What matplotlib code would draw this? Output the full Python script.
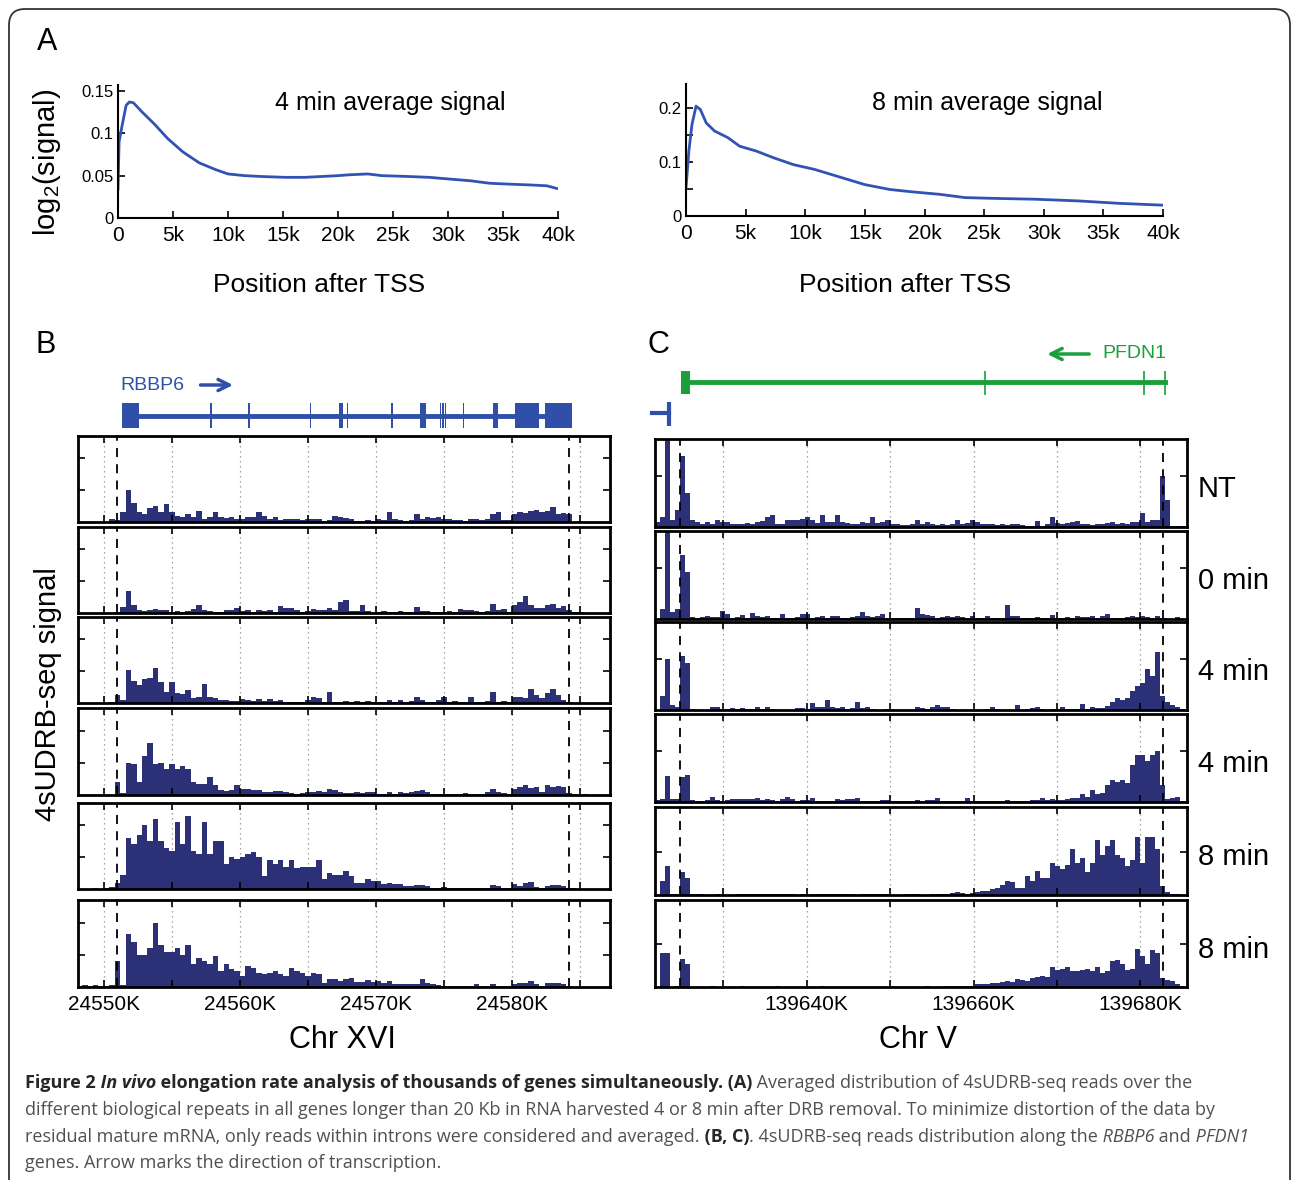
import numpy as np
import matplotlib
matplotlib.use("Agg")
import matplotlib.pyplot as plt
from matplotlib.patches import FancyBboxPatch
from matplotlib.transforms import IdentityTransform

plt.rcParams['font.family'] = ['Liberation Sans', 'DejaVu Sans']
plt.rcParams['mathtext.fontset'] = 'custom'
plt.rcParams['mathtext.rm'] = 'Liberation Sans'

W, H = 1293, 1180

CURVE_BLUE = '#3253b4'
GENE_BLUE = '#2f4fa8'
GENE_GREEN = '#1a9f3a'
BAR = '#2c3076'

# ---- panel A: average log2 signal vs position after TSS (kb)
A4_X = [0, 0.1, 0.37, 0.74, 1.04, 1.4, 2.2, 3.3, 4.5, 5.9, 7.4, 8.9, 10, 11.5, 13, 15.2,
        17, 18.5, 20, 21, 22.7, 24, 26.4, 28.3, 30.1, 32, 33.8, 35.5, 37.5, 39, 40]
A4_Y = [0.034, 0.09, 0.109, 0.133, 0.137, 0.136, 0.125, 0.111, 0.094, 0.078, 0.065, 0.057,
        0.052, 0.050, 0.049, 0.048, 0.048, 0.049, 0.050, 0.051, 0.052, 0.050, 0.049, 0.048,
        0.046, 0.044, 0.041, 0.040, 0.039, 0.038, 0.0345]
A8_X = [0, 0.24, 0.5, 0.84, 1.2, 1.7, 2.4, 3.5, 4.5, 5.9, 7.3, 9, 10.8, 12.6, 15, 17.1,
        18.8, 21.3, 23.4, 25.8, 29.3, 32.8, 36.3, 40]
A8_Y = [0.052, 0.12, 0.169, 0.203, 0.197, 0.172, 0.157, 0.145, 0.129, 0.12, 0.108, 0.095,
        0.086, 0.074, 0.058, 0.049, 0.045, 0.040, 0.034, 0.0326, 0.031, 0.028, 0.0234, 0.020]
A_XTICKS = [0, 5, 10, 15, 20, 25, 30, 35, 40]
A_XLABELS = ['0', '5k', '10k', '15k', '20k', '25k', '30k', '35k', '40k']

# ---- panel B: RBBP6 on Chr XVI (positions in kb)
B_START = 24548.0
B_BIN = 0.4
B_XLIM = (24548.1, 24587.2)
B_GRID = [24550, 24555, 24560, 24565, 24570, 24575, 24580, 24585]
B_GRID_LABELS = ['24550K', '', '24560K', '', '24570K', '', '24580K', '']
B_DASH = [24551.0, 24584.2]
B_EXON_START = [24551.3, 24557.83, 24560.63, 24565.18, 24567.3, 24567.88, 24571.12, 24573.2,
                24574.68, 24574.88, 24575.08, 24576.38, 24578.6, 24580.25, 24582.4]
B_EXON_END = [24552.6, 24557.95, 24560.71, 24565.26, 24567.55, 24567.98, 24571.24, 24573.7,
              24574.78, 24574.98, 24575.18, 24576.46, 24579.0, 24582.0, 24584.4]

B_NT = [0, 0, 0, 0, 0, 0, 1, 0.5, 3, 10,
        6, 3, 2.5, 4.5, 5, 3, 5.5, 3, 2, 1.5,
        2.5, 1.5, 3.5, 1, 1.5, 3, 1.5, 1.2, 1.5, 1,
        1, 1.5, 1.5, 3.2, 2, 1, 1.5, 0.7, 1, 0.8,
        1, 0.5, 1, 0.8, 1, 0.3, 0.5, 1.8, 1.5, 1.2,
        0.8, 0.3, 0.3, 0.5, 0.3, 0.8, 0.5, 3.2, 1, 0.5,
        0.3, 0.5, 2.5, 0.8, 1.5, 1.2, 1.5, 1, 0.8, 0.5,
        0.7, 0.3, 0.8, 0.8, 0.5, 1, 2.5, 3, 0.5, 0.5,
        2.5, 3, 2.8, 3.5, 3.8, 3, 3.5, 4.8, 2.5, 2.8,
        2.5, 0, 0.2, 0, 0, 0, 0, 0]
B_0MIN = [0, 0, 0, 0, 0, 0, 0, 0.3, 2, 7,
          2.5, 1, 0.5, 0.8, 1.2, 1, 0.8, 0.3, 0.5, 0.3,
          0.5, 1.2, 2.5, 1, 0.5, 0.3, 0.3, 0.8, 0.8, 1.5,
          0.5, 1, 0.3, 0.8, 0.5, 0.8, 0.3, 2.2, 1.5, 1.5,
          0.8, 0.3, 0.5, 1.2, 1, 1, 1.5, 1, 3.5, 4,
          0.5, 0.5, 2.5, 0.5, 0, 0.3, 0.5, 0.3, 0.3, 0.5,
          0.2, 0.3, 2, 0.5, 0.5, 0.3, 0.3, 0.3, 0.5, 0.2,
          1.2, 0.8, 0.8, 0.5, 0.3, 0.5, 2.8, 1, 1.2, 0.3,
          2.5, 3.5, 5.2, 2.5, 1.5, 1.5, 2.5, 2.8, 1.5, 2.2,
          1, 0.3, 0.3, 0, 0, 0, 0, 0]
B_4MIN_A = [0, 0, 0, 0, 0, 0, 0.3, 2.5, 1, 10.5,
            7, 5.5, 7.5, 8, 11, 6.5, 3.5, 6.5, 3, 2.8,
            4, 1.5, 2, 6, 2, 1.5, 1, 0.8, 0.5, 0.5,
            1.2, 0.8, 0.5, 1.2, 0.5, 1.2, 0.5, 0.8, 0.3, 0.3,
            0.3, 0.3, 0.8, 1.8, 1.5, 0.3, 3.5, 0.3, 0.3, 0.5,
            0.3, 0.5, 0.2, 0.5, 0.3, 0.2, 0.3, 1, 0.3, 0.8,
            0.2, 0.5, 2, 0.8, 0.3, 0.3, 0.8, 1.8, 0.3, 0.5,
            0.2, 0.3, 2, 0.3, 0.2, 0.5, 3.5, 0.3, 0.5, 0.3,
            1.8, 2, 1.5, 4.5, 2.5, 1.5, 3, 4.5, 2.5, 1,
            0.3, 0, 0, 0, 0, 0, 0, 0]
B_4MIN_B = [0, 0, 0, 0, 0, 0, 0, 4, 0.5, 10,
            9.5, 4, 12, 16, 9.5, 10, 8, 9.5, 8, 9,
            8, 4, 3.5, 3.5, 5.5, 3, 1.5, 1.2, 1.5, 3,
            2, 2, 1.5, 1.5, 0.8, 1, 1.2, 1.2, 0.8, 0.5,
            0.3, 0.5, 1, 1, 1.2, 0.8, 1.8, 1.5, 0.8, 0.5,
            0.5, 0.8, 0.5, 0.8, 1, 0.2, 0.3, 1, 0.3, 0.8,
            0.5, 0.8, 1.2, 1.5, 0.8, 0.3, 0.3, 0.3, 0.3, 0.3,
            0.3, 0.5, 0.3, 0.2, 0.3, 0.8, 1.8, 0.8, 0.5, 0.3,
            1.8, 2.5, 3, 2.2, 2.5, 0.8, 3, 2.5, 2.8, 2.5,
            0.5, 0.2, 0, 0.3, 0, 0, 0, 0]
B_8MIN_A = [0, 0, 0, 0.4, 0, 0.3, 0.6, 2, 4.5, 16,
            14, 17, 20, 15, 22, 15, 13, 12, 21, 14,
            23, 12, 11, 21, 11, 15, 15, 8, 10, 9.5,
            10, 11, 11.5, 10, 4, 9, 8, 9, 7, 9,
            6.5, 7, 7, 7, 9, 3, 5, 4.5, 4.5, 5.5,
            4, 2, 2, 3, 2.5, 2.5, 1.5, 2, 1.5, 1.5,
            1, 1, 1.2, 1.2, 0.8, 0.3, 0.2, 0.5, 0.3, 0.3,
            0.3, 0.3, 0.3, 0.2, 0.3, 0.3, 1.2, 1, 0.3, 0.2,
            1.5, 1, 1.8, 2.2, 0.5, 0.3, 1, 1.2, 1.3, 1,
            0.2, 0.3, 0, 0, 0, 0, 0, 0]
B_8MIN_B = [0.4, 0.5, 0.4, 0.5, 0.4, 0.3, 0.5, 8, 0.5, 16.5,
            14, 10, 10, 12, 20, 13, 11, 11, 12, 10,
            13, 7, 9, 8, 7, 9.5, 5, 7, 5.5, 5,
            3.5, 6.5, 6, 4.5, 4, 4.5, 5, 4, 3.5, 6,
            5, 4.5, 3.5, 4.5, 4, 1.3, 2.5, 2.5, 2, 2.5,
            2.8, 1.5, 1.5, 2.2, 1.5, 1.8, 1.2, 2, 0.8, 0.8,
            0.8, 0.8, 1, 2.5, 1.2, 1, 0.5, 0.2, 0.2, 0.2,
            0.3, 0.2, 0.3, 0.8, 0.2, 0.2, 1, 0.3, 0.2, 0.2,
            1, 1.2, 1.3, 2, 0.8, 0.3, 1.2, 1.3, 1.2, 1,
            0.3, 0, 0, 0, 0, 0, 0, 0]
B_TRACKS = [B_NT, B_0MIN, B_4MIN_A, B_4MIN_B, B_8MIN_A, B_8MIN_B]

# ---- panel C: PFDN1 on Chr V (positions in kb)
C_START = 139621.8
C_BIN = 0.6
C_XLIM = (139621.8, 139685.6)
C_GRID = [139630, 139640, 139650, 139660, 139670, 139680]
C_GRID_LABELS = ['', '139640K', '', '139660K', '', '139680K']
C_DASH = [139624.8, 139682.7]
C_EXON_THIN = [139661.4, 139680.4, 139683.0]
C_LABELS = ['NT', '0 min', '4 min', '4 min', '8 min', '8 min']
C_YMAX = [26, 26, 26, 26, 30.6, 30.6]

C_NT = [1.5, 3, 26, 2, 5, 21, 10, 2, 1.5, 1,
        1.5, 1, 2, 1.5, 1.5, 1, 1, 0.8, 1.2, 1,
        1.5, 1.8, 3, 3.5, 1, 0.8, 2, 2.2, 2, 2.5,
        3, 2, 1.2, 3.5, 1.5, 1.5, 3.5, 1.5, 1.2, 1,
        1, 1.5, 1.2, 3, 1.2, 1.5, 2, 1, 0.8, 0.5,
        0.5, 0.8, 2.2, 1, 1.5, 0.8, 0.5, 1, 0.5, 1,
        2, 1, 1.2, 2, 1.5, 1, 0.8, 0.8, 0.5, 0.8,
        0.5, 0.8, 1, 0.5, 0.3, 0.3, 1.8, 0.3, 0.8, 3,
        1.2, 1, 1.2, 1.5, 1.8, 1, 0.8, 0.5, 1, 0.8,
        1.2, 1.5, 1, 1.2, 1, 1.5, 1.5, 4, 1.5, 2,
        2, 15, 8, 0.3, 0.2, 0.2, 0]
C_0MIN = [0, 3, 26, 2, 3, 19, 14, 0.5, 0.3, 0.5,
          0.8, 0.5, 0.5, 2.5, 1.5, 0.3, 0.5, 1.2, 0.3, 1.8,
          1, 0.5, 1, 0.3, 0.3, 1.5, 0.3, 0.2, 0.5, 1.5,
          1.5, 0.3, 0.5, 1, 0.3, 0.8, 1, 0.3, 0.2, 0.5,
          0.8, 2, 0.8, 0.5, 1, 1.5, 0.3, 0.2, 0.2, 0.2,
          0.3, 0.3, 3.2, 1.5, 1.2, 1, 0.3, 0.5, 0.8, 0.5,
          1, 0.5, 0.2, 1, 0.2, 0.3, 0.8, 0.2, 0.2, 0.2,
          4, 1, 0.8, 0.2, 0.2, 0.2, 0.5, 0.3, 0.2, 1.2,
          0.2, 0.3, 0.5, 0.3, 0.8, 0.5, 0.5, 1, 0.2, 1,
          1.5, 0.3, 0.2, 0.3, 0.5, 0.8, 0.5, 0.8, 0.5, 0.3,
          0.8, 0.2, 0, 0, 0.5, 0, 0]
C_4MIN_A = [0, 4, 15, 1.5, 1, 16, 14, 0.2, 0, 0,
            0, 0.8, 0.8, 0.2, 0.2, 0.5, 0.2, 0.5, 0.2, 0.3,
            0.8, 0.2, 1, 0.2, 0, 0, 0, 0, 0.5, 0.5,
            0.2, 2, 0.8, 1, 3, 0.8, 0.5, 0.8, 0.2, 0.5,
            2.5, 0.5, 1, 0.2, 0, 0, 0.2, 0.3, 0, 0,
            0, 0, 1, 0.5, 0.2, 0.8, 1.5, 0.8, 1, 0.2,
            0, 0, 0, 0, 0, 0, 0.2, 0.8, 0.2, 0,
            0, 0, 1.5, 0, 0.2, 0.5, 0.8, 0.2, 0, 0.2,
            0.2, 0.8, 0.3, 0.2, 0.3, 1.8, 0.3, 0.8, 0.5, 0.5,
            1.2, 2.5, 3.5, 3, 3.5, 5.5, 7, 8, 12, 10,
            17, 4, 2.5, 1.5, 0.8, 0.3, 0]
C_4MIN_B = [0.5, 0.8, 7.6, 0.8, 0.8, 7.5, 8, 0.5, 0.3, 0.3,
            0.5, 1.5, 0.5, 0.3, 0.5, 0.8, 0.8, 0.8, 1, 1,
            1.2, 0.5, 0.8, 0.5, 0.3, 0.8, 1.5, 0.8, 0.3, 0.5,
            0.5, 1.2, 0.3, 0.3, 0.3, 0.3, 0.8, 0.5, 0.8, 0.8,
            1.2, 0.3, 0.3, 0.2, 0.3, 0.5, 0.5, 0.3, 0.3, 0.2,
            0.3, 0.2, 0.5, 0.3, 0.5, 0.5, 1.2, 0.2, 0.3, 0.3,
            0.2, 0.3, 1.3, 0.3, 0.2, 0.2, 0.2, 0.2, 0.3, 0.3,
            0.5, 0.3, 0.3, 0.2, 0.3, 0.5, 0.5, 1.2, 0.5, 0.8,
            0.5, 0.5, 0.8, 1.2, 1.2, 2.5, 1.5, 3.5, 2.5, 2.8,
            5, 6.5, 6, 6.5, 5.5, 11, 14, 14, 12, 14,
            15, 5, 1, 1.2, 1.5, 0.3, 0]
C_8MIN_A = [0, 5, 10, 0.3, 0.3, 8, 6, 0.2, 0.3, 0.2,
            0.1, 0.1, 0.3, 0.1, 0.1, 0.1, 0.2, 0.2, 0.2, 0.3,
            0.3, 0.3, 0.2, 0.2, 0.3, 0.2, 0.2, 0.3, 0.1, 0.2,
            0.1, 0.2, 0.3, 0.3, 0.2, 0.2, 0.3, 0.3, 0.2, 0.2,
            0.1, 0.2, 0.2, 0.2, 0.3, 0.3, 0.2, 0.1, 0.1, 0.1,
            0.2, 0.2, 0.2, 0.1, 0.1, 0.2, 0.2, 0.3, 0.3, 0.8,
            1, 0.8, 0.5, 0.8, 1.2, 1.5, 1.5, 2.2, 2.5, 3.5,
            5, 4.5, 2.5, 2.5, 6.5, 5, 8.5, 6, 6, 11,
            10, 9, 10.5, 16, 11, 13, 8, 11, 19, 14,
            17, 19, 14, 13, 10, 12, 20, 11, 20, 20,
            16, 3, 1, 0.3, 0.2, 0, 0]
C_8MIN_B = [0, 12, 12, 0.1, 0.2, 10, 8, 0.1, 0.1, 0.1,
            0.1, 0.2, 0.1, 0.1, 0.1, 0.1, 0.1, 0.2, 0.1, 0.1,
            0.1, 0.1, 0.1, 0.1, 0.2, 0.1, 0.1, 0.1, 0.1, 0.1,
            0.1, 0.1, 0.1, 0.2, 0.1, 0.1, 0.1, 0.1, 0.1, 0.1,
            0.1, 0.1, 0.1, 0.1, 0.1, 0.1, 0.1, 0.2, 0.1, 0.1,
            0.1, 0.1, 0.1, 0.1, 0.2, 0.1, 0.1, 0.1, 0.2, 0.2,
            0.2, 0.2, 0.3, 0.5, 1, 1.2, 1, 1.3, 1.5, 1.8,
            2, 1.8, 2.8, 2.5, 2.2, 3, 3.5, 4, 3.5, 7,
            6, 6.5, 7, 5.5, 5.5, 6, 6.5, 5.5, 7, 5,
            5.5, 9, 9.5, 8, 6, 6.5, 13.5, 11, 8, 13,
            12, 3, 2.5, 2, 1.2, 0.2, 0]
C_TRACKS = [C_NT, C_0MIN, C_4MIN_A, C_4MIN_B, C_8MIN_A, C_8MIN_B]

# track rows in pixels (top, bottom)
B_ROWS = [(436, 522), (527, 613), (617, 703), (708, 795), (803, 889), (900, 987)]
C_ROWS = [(439, 527), (531, 619), (622, 710), (714, 802), (807, 895), (900, 987)]

CAPTION = [
    [("Figure 2", 'bold', 'normal'), (" In vivo", 'bold', 'italic'),
     (" elongation rate analysis of thousands of genes simultaneously. (A)", 'bold', 'normal'),
     (" Averaged distribution of 4sUDRB-seq reads over the", 'normal', 'normal')],
    [("different biological repeats in all genes longer than 20 Kb in RNA harvested 4 or 8 min "
      "after DRB removal. To minimize distortion of the data by", 'normal', 'normal')],
    [("residual mature mRNA, only reads within introns were considered and averaged.", 'normal', 'normal'),
     (" (B, C)", 'bold', 'normal'), (". 4sUDRB-seq reads distribution along the", 'normal', 'normal'),
     (" RBBP6", 'normal', 'italic'), (" and", 'normal', 'normal'), (" PFDN1", 'normal', 'italic')],
    [("genes. Arrow marks the direction of transcription.", 'normal', 'normal')],
]
CAPTION_Y = [1083, 1110, 1137, 1163]
CAPTION_WIDTH = [1221, 1237, 1255, None]

fig = plt.figure(figsize=(W / 100, H / 100), dpi=100)


def px_axes(l, t, r, b):
    return fig.add_axes([l / W, 1 - b / H, (r - l) / W, (b - t) / H])


def ftext(x, y, s, **kw):
    return fig.text(x / W, 1 - y / H, s, **kw)


def avg_panel(box, xs, ys, ymax, yticks, ylabels):
    ax = px_axes(*box)
    ax.plot(xs, ys, color=CURVE_BLUE, lw=2)
    ax.set_xlim(0, 40)
    ax.set_ylim(0, ymax)
    ax.set_xticks(A_XTICKS)
    ax.set_xticklabels(A_XLABELS, fontsize=15)
    ax.set_yticks(yticks)
    ax.set_yticklabels(ylabels, fontsize=12)
    for s in ['top', 'right']:
        ax.spines[s].set_visible(False)
    for s in ['left', 'bottom']:
        ax.spines[s].set_linewidth(1.5)
    ax.tick_params(direction='in', length=5, width=1.2)
    ax.tick_params(axis='x', pad=6)
    ax.tick_params(axis='y', pad=3)
    return ax


def track(box, vals, start, binw, xlim, grid, dash, ymax, yticks, labels=None):
    ax = px_axes(*box)
    x = start + binw * np.arange(len(vals))
    ax.bar(x, vals, width=binw, align='edge', color=BAR, lw=0)
    ax.set_xlim(*xlim)
    ax.set_ylim(0, ymax)
    for g in grid:
        ax.axvline(g, color='#8a8a8a', ls=(0, (1, 3)), lw=0.9, zorder=0)
    for d in dash:
        ax.axvline(d, color='k', ls=(0, (5, 4)), lw=1.3, zorder=3)
    ax.set_xticks(grid)
    ax.set_yticks(yticks)
    ax.tick_params(direction='in', top=True, right=True, length=5, width=1.2,
                   labelleft=False, labelbottom=labels is not None, pad=6)
    if labels is not None:
        ax.set_xticklabels(labels, fontsize=15)
    for s in ax.spines.values():
        s.set_linewidth(2)
    return ax


# ---- panel A
avg_panel((118, 85, 558, 218), A4_X, A4_Y, 0.157, [0, 0.05, 0.1, 0.15], ['0', '0.05', '0.1', '0.15'])
avg_panel((686, 84, 1163, 216), A8_X, A8_Y, 0.244, [0, 0.05, 0.1, 0.15, 0.2], ['0', '', '0.1', '', '0.2'])
ftext(390, 103, '4 min average signal', ha='center', va='center', fontsize=18)
ftext(987, 103, '8 min average signal', ha='center', va='center', fontsize=18)
ftext(319, 285, 'Position after TSS', ha='center', va='center', fontsize=19)
ftext(905, 285, 'Position after TSS', ha='center', va='center', fontsize=19)
ftext(47, 162, r'log$_2$(signal)', rotation=90, ha='center', va='center', fontsize=21)

# ---- panel B
for k, (vals, (t, b)) in enumerate(zip(B_TRACKS, B_ROWS)):
    track((78, t, 610, b), vals, B_START, B_BIN, B_XLIM, B_GRID, B_DASH, 27, [10, 20],
          B_GRID_LABELS if k == 5 else None)

gb = px_axes(78, 340, 610, 432)
gb.set_xlim(*B_XLIM)
gb.set_ylim(432, 340)
gb.axis('off')
gb.plot([B_EXON_END[0], B_EXON_START[-1]], [415.5, 415.5], color=GENE_BLUE, lw=3.5)
gb.broken_barh([(s, e - s) for s, e in zip(B_EXON_START, B_EXON_END)], (403, 25),
               facecolor=GENE_BLUE, edgecolor='none')
gb.text(24551.25, 386, 'RBBP6', ha='left', va='center', fontsize=14, color=GENE_BLUE)
gb.annotate('', xy=(24559.7, 385), xytext=(24556.9, 385),
            arrowprops=dict(arrowstyle='->', lw=2.5, color=GENE_BLUE, mutation_scale=20))

# ---- panel C
for k, (vals, (t, b)) in enumerate(zip(C_TRACKS, C_ROWS)):
    track((655, t, 1187, b), vals, C_START, C_BIN, C_XLIM, C_GRID, C_DASH, C_YMAX[k], [15],
          C_GRID_LABELS if k == 5 else None)
    ftext(1198, (t + b) / 2 + 6, C_LABELS[k], ha='left', va='center', fontsize=21)

gc = px_axes(655, 340, 1187, 432)
gc.set_xlim(*C_XLIM)
gc.set_ylim(432, 340)
gc.axis('off')
gc.plot([139626.0, C_EXON_THIN[-1]], [382.3, 382.3], color=GENE_GREEN, lw=3.5)
gc.broken_barh([(139624.9, 1.1)], (370.7, 23.6), facecolor=GENE_GREEN, edgecolor='none')
gc.vlines(C_EXON_THIN, 370.5, 394.5, color=GENE_GREEN, lw=1.2)
gc.plot([139621.5, 139623.5], [413, 413], color=GENE_BLUE, lw=3, clip_on=False)
gc.vlines([139623.5], 401.7, 425.7, color=GENE_BLUE, lw=3, clip_on=False)
gc.text(139683.1, 354, 'PFDN1', ha='right', va='center', fontsize=14, color=GENE_GREEN)
gc.annotate('', xy=(139668.5, 354), xytext=(139674.2, 354),
            arrowprops=dict(arrowstyle='->', lw=2.5, color=GENE_GREEN, mutation_scale=20))

# ---- labels
ftext(47, 42, 'A', ha='center', va='center', fontsize=22)
ftext(46, 345, 'B', ha='center', va='center', fontsize=22)
ftext(658, 345, 'C', ha='center', va='center', fontsize=22)
ftext(48, 694, '4sUDRB-seq signal', rotation=90, ha='center', va='center', fontsize=21)
ftext(342, 1040, 'Chr XVI', ha='center', va='center', fontsize=22)
ftext(918, 1040, 'Chr V', ha='center', va='center', fontsize=22)

# ---- caption
CAP_FONT = ['Open Sans', 'DejaVu Sans']
renderer = fig.canvas.get_renderer()


def caption_line(runs, y, size):
    x = 25
    arts = []
    for txt, weight, style in runs:
        col = '#262626' if weight == 'bold' else '#505050'
        t = ftext(x, y, txt, fontsize=size, fontweight=weight, fontstyle=style,
                  family=CAP_FONT, color=col, va='center', ha='left')
        x += t.get_window_extent(renderer).width
        arts.append(t)
    return arts, x - 25


# one font size for every caption line, small enough that each fits its width
cap_size = 13
for runs, target in zip(CAPTION, CAPTION_WIDTH):
    if target is None:
        continue
    probe, width = caption_line(runs, -200, 12)
    for t in probe:
        t.remove()
    cap_size = min(cap_size, 12 * target / width)
for runs, y in zip(CAPTION, CAPTION_Y):
    caption_line(runs, y, cap_size)

frame = FancyBboxPatch((9, -30), 1281, H - 9 + 30, boxstyle='round,pad=0,rounding_size=16',
                       transform=IdentityTransform(), fill=False, ec='#333333', lw=1.3)
fig.add_artist(frame)

fig.savefig('out.png', dpi=100)
